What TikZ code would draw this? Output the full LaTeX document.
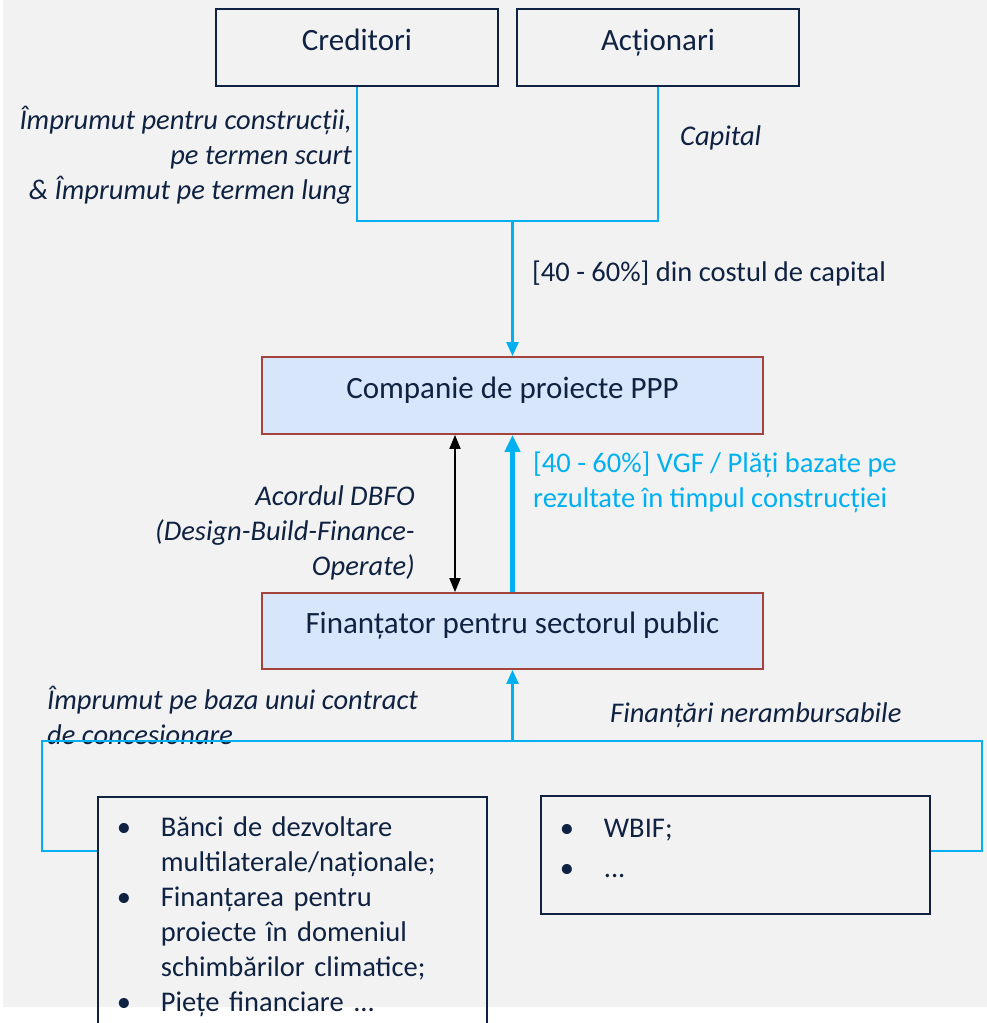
\documentclass[tikz,border=0pt]{standalone}
\usepackage{fontspec}
\setmainfont{Carlito}
\usetikzlibrary{arrows.meta}
\definecolor{navy}{HTML}{0F2241}
\definecolor{skyline}{HTML}{00B0F0}
\definecolor{boxred}{HTML}{A4443C}
\definecolor{boxfill}{HTML}{D7E6FA}
\definecolor{bggray}{HTML}{F2F2F2}
\newcommand{\titlefont}{\fontsize{31}{35}\selectfont}
\newcommand{\bodyfont}{\fontsize{28.5}{35}\selectfont}

\begin{document}
\begin{tikzpicture}[x=1pt, y=-1pt,
    party/.style={draw=navy, line width=1.8pt, minimum width=282pt, minimum height=77pt, inner sep=0pt,
        text=navy, font=\titlefont, text height=23pt, text depth=18pt},
    entity/.style={party, draw=boxred, fill=boxfill, minimum width=501pt},
    listbox/.style={draw=navy, line width=1.8pt, anchor=north west, text width=351pt, inner xsep=19pt,
        text=navy, font=\bodyfont, align=left},
    flow/.style={draw=skyline, line width=2.4pt},
    note/.style={text=navy, font=\bodyfont\itshape, inner sep=0pt}
]

    \useasboundingbox (0,0) rectangle (987,1023);
    \fill[bggray] (3,0) rectangle (987,1007);

    \node [party] (cred) at (357,47.5) {Creditori};
    \node [party] (act) at (658,47.5) {Acționari};
    \node [entity] (ppp) at (512.5,395.5) {Companie de proiecte PPP};
    \node [entity, minimum height=76pt] (fin) at (512.5,631) {Finanțator pentru sectorul public};

    \node [listbox, inner ysep=15pt] (lbox) at (97,796) {\noindent\begin{tabular}{@{}p{44pt}@{}l@{}}
        \textbullet & Bănci de dezvoltare\\
                    & multilaterale/naționale;\\
        \textbullet & Finanțarea pentru\\
                    & proiecte în domeniul\\
                    & schimbărilor climatice;\\
        \textbullet & Piețe financiare ...
        \end{tabular}};
    \node [listbox, inner ysep=17.5pt] (rbox) at (540,795) {\noindent\begin{tabular}{@{}p{44pt}@{}l@{}}
        \textbullet & WBIF;\\[5pt]
        \textbullet & ...\\[8pt]
        \end{tabular}};

    % labels
    \node [note, anchor=east, align=right] (loanlbl) at (352,155)
        {Împrumut pentru construcții,\\pe termen scurt\\\& Împrumut pe termen lung};
    \node [note, anchor=west] (caplbl) at (680,138) {Capital};
    \node [note, anchor=west, font=\bodyfont] (sharelbl) at (532,273) {[40 - 60\%] din costul de capital};
    \node [note, anchor=east, align=right] (dbfolbl) at (415,533)
        {Acordul DBFO\\(Design-Build-Finance-\\Operate)};
    \node [note, anchor=west, align=left, font=\bodyfont, text=skyline] (vgflbl) at (533,482.5)
        {[40 - 60\%] VGF / Plăți bazate pe\\rezultate în timpul construcției};
    \node [note, anchor=west, align=left] (conclbl) at (47,715)
        {Împrumut pe baza unui contract\\de concesionare};
    \node [note, anchor=west] (grantlbl) at (610,715) {Finanțări nerambursabile};

    % connectors
    \coordinate (merge) at (512.5,221);
    \coordinate (lcorner) at (42,741);
    \coordinate (rcorner) at (982,741);
    \coordinate (lfoot) at (42,851);
    \coordinate (rfoot) at (982,851);

    \draw [flow] (cred.south) |- (merge) -| (act.south);
    \draw [flow, -{Triangle[length=14pt, width=12pt]}] (merge) -- (ppp.north);
    \draw [line width=1.8pt, {Triangle[length=14pt, width=11pt]}-{Triangle[length=14pt, width=11pt]}]
        ([xshift=-57.5pt]ppp.south) -- ([xshift=-57.5pt]fin.north);
    \draw [flow, line width=4.5pt, -{Triangle[length=17pt, width=15pt]}] (fin.north) -- (ppp.south);
    \draw [flow] (lfoot -| lbox.west) -- (lfoot) -- (lcorner) -- (rcorner) -- (rfoot) -- (rfoot -| rbox.east);
    \draw [flow, -{Triangle[length=14pt, width=12pt]}] (lcorner -| fin.south) -- (fin.south);

\end{tikzpicture}
\end{document}
